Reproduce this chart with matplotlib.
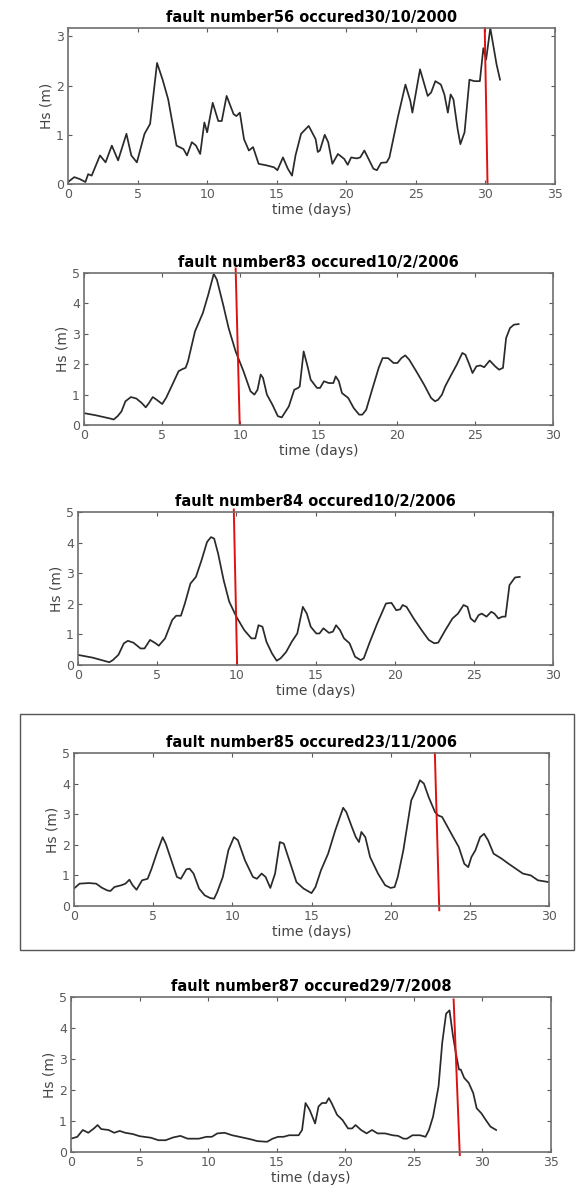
import matplotlib
matplotlib.use("Agg")
import matplotlib.pyplot as plt
from matplotlib.patches import Rectangle
import numpy as np

# fault 56 - 30/10/2000
t56 = [0.05, 0.45, 0.85, 1.25, 1.45, 1.7, 2.3, 2.7, 3.15, 3.6, 4.2, 4.55, 4.95, 5.5, 5.9, 6.4, 6.8, 7.2,
       7.8, 8.3, 8.55, 8.9, 9.2, 9.5, 9.8, 10.0, 10.4, 10.8, 11.05, 11.4, 11.9, 12.1, 12.35, 12.65, 13.0,
       13.3, 13.7, 14.25, 14.8, 15.05, 15.45, 15.8, 16.1, 16.35, 16.75, 17.3, 17.8, 17.95, 18.1, 18.45,
       18.7, 19.0, 19.4, 19.85, 20.1, 20.35, 20.75, 21.0, 21.3, 21.6, 21.95, 22.2, 22.5, 22.9, 23.1, 23.7,
       24.25, 24.6, 24.75, 25.3, 25.85, 26.1, 26.4, 26.8, 27.05, 27.3, 27.5, 27.7, 28.0, 28.2, 28.5, 28.85,
       29.2, 29.6, 29.85, 30.05, 30.35, 30.8, 31.05]
hs56 = [0.05, 0.14, 0.1, 0.04, 0.2, 0.17, 0.58, 0.44, 0.78, 0.48, 1.02, 0.58, 0.44, 1.02, 1.22, 2.46, 2.12, 1.72,
        0.78, 0.71, 0.58, 0.85, 0.78, 0.61, 1.25, 1.05, 1.65, 1.28, 1.28, 1.79, 1.42, 1.38, 1.45, 0.91, 0.68,
        0.75, 0.41, 0.38, 0.34, 0.28, 0.54, 0.31, 0.17, 0.58, 1.02, 1.18, 0.91, 0.65, 0.68, 1.0,
        0.85, 0.41, 0.61, 0.51, 0.39, 0.54, 0.52, 0.54, 0.68, 0.51, 0.31, 0.28, 0.43, 0.44, 0.54, 1.35,
        2.02, 1.69, 1.45, 2.33, 1.79, 1.86, 2.09, 2.02, 1.82, 1.45, 1.82, 1.72, 1.12, 0.81, 1.05, 2.12,
        2.09, 2.09, 2.76, 2.53, 3.17, 2.43, 2.12]

# fault 83 - 10/2/2006
t83 = [0, 0.75, 1.7, 1.9, 2.15, 2.4, 2.65, 3.0, 3.35, 3.7, 3.95, 4.15, 4.4, 4.65, 5.0, 5.25, 5.7, 6.05, 6.3,
       6.5, 6.65, 7.1, 7.6, 7.95, 8.3, 8.5, 8.9, 9.25, 9.7, 10.2, 10.65, 10.9, 11.1, 11.3, 11.45, 11.7, 12.05,
       12.4, 12.65, 13.1, 13.45, 13.7, 13.8, 14.05, 14.3, 14.5, 14.9, 15.1, 15.35, 15.65, 15.95, 16.1, 16.3,
       16.5, 16.9, 17.25, 17.6, 17.8, 18.05, 18.4, 18.85, 19.1, 19.45, 19.8, 20.05, 20.3, 20.55, 20.8, 21.25,
       21.75, 22.2, 22.45, 22.65, 22.9, 23.1, 23.5, 23.85, 24.2, 24.4, 24.65, 24.85, 25.1, 25.35, 25.6, 25.95,
       26.3, 26.55, 26.8, 27.0, 27.25, 27.5, 27.8]
hs83 = [0.39, 0.32, 0.21, 0.18, 0.29, 0.45, 0.78, 0.92, 0.87, 0.72, 0.58, 0.72, 0.92, 0.83, 0.69, 0.89, 1.38, 1.77, 1.84,
        1.88, 2.09, 3.08, 3.68, 4.29, 4.97, 4.78, 3.96, 3.19, 2.42, 1.77, 1.11, 1.0, 1.16, 1.66, 1.55, 1.0, 0.67,
        0.29, 0.25, 0.61, 1.16, 1.22, 1.27, 2.42, 1.93, 1.49, 1.22, 1.22, 1.44, 1.38, 1.38, 1.6, 1.44,
        1.05, 0.89, 0.56, 0.34, 0.34, 0.5, 1.11, 1.88, 2.2, 2.2, 2.04, 2.04, 2.2, 2.29, 2.15, 1.77,
        1.33, 0.89, 0.78, 0.83, 1.0, 1.27, 1.66, 1.99, 2.37, 2.31, 1.99, 1.71, 1.93, 1.96, 1.9, 2.12,
        1.93, 1.82, 1.88, 2.86, 3.19, 3.3, 3.32]

# fault 84 - 10/2/2006
t84 = [0, 0.93, 1.98, 2.2, 2.55, 2.9, 3.15, 3.5, 3.95, 4.2, 4.55, 4.9, 5.1, 5.5, 5.95, 6.2, 6.5, 6.75, 7.1, 7.45,
       7.8, 8.15, 8.4, 8.6, 8.85, 9.2, 9.55, 10.0, 10.5, 10.95, 11.2, 11.4, 11.65, 11.9, 12.25, 12.55, 12.8,
       13.15, 13.5, 13.85, 14.2, 14.45, 14.7, 15.05, 15.25, 15.5, 15.85, 16.1, 16.3, 16.55, 16.8, 17.15, 17.5,
       17.85, 18.05, 18.4, 18.9, 19.45, 19.8, 20.1, 20.35, 20.5, 20.75, 21.2, 21.7, 22.15, 22.5, 22.75, 23.2,
       23.65, 24.0, 24.35, 24.6, 24.8, 25.05, 25.3, 25.5, 25.8, 26.1, 26.3, 26.55, 26.8, 27.0, 27.25, 27.6, 27.9]
hs84 = [0.33, 0.24, 0.09, 0.16, 0.33, 0.71, 0.79, 0.73, 0.54, 0.54, 0.82, 0.71, 0.63, 0.87, 1.47, 1.61, 1.61, 2.01, 2.66, 2.88,
        3.42, 4.02, 4.18, 4.13, 3.64, 2.77, 2.07, 1.58, 1.14, 0.87, 0.87, 1.3, 1.25, 0.76, 0.38, 0.14, 0.22,
        0.43, 0.76, 1.03, 1.9, 1.68, 1.25, 1.03, 1.03, 1.2, 1.05, 1.09, 1.3, 1.14, 0.87, 0.71, 0.27,
        0.16, 0.22, 0.71, 1.36, 2.01, 2.03, 1.79, 1.82, 1.96, 1.9, 1.52, 1.14, 0.82, 0.71, 0.73, 1.14,
        1.52, 1.68, 1.96, 1.9, 1.52, 1.41, 1.63, 1.68, 1.58, 1.74, 1.68, 1.52, 1.58, 1.58, 2.61, 2.86, 2.88]

# fault 85 - 23/11/2006
t85 = [0, 0.35, 0.93, 1.4, 1.75, 2.1, 2.3, 2.55, 3.0, 3.25, 3.5, 3.7, 3.95, 4.3, 4.65, 4.9, 5.25, 5.6, 5.8, 6.15,
       6.5, 6.75, 7.1, 7.3, 7.55, 7.9, 8.25, 8.6, 8.85, 9.05, 9.4, 9.75, 10.1, 10.35, 10.8, 11.3, 11.55, 11.85,
       12.1, 12.4, 12.7, 13.0, 13.25, 13.6, 14.05, 14.5, 15.0, 15.25, 15.6, 16.05, 16.5, 17.0, 17.2, 17.55,
       17.8, 18.0, 18.15, 18.4, 18.7, 19.2, 19.65, 20.0, 20.25, 20.45, 20.8, 21.3, 21.6, 21.85, 22.1, 22.4,
       22.8, 23.0, 23.25, 23.6, 23.95, 24.3, 24.65, 24.9, 25.1, 25.35, 25.65, 25.9, 26.15, 26.5, 27.0, 27.45,
       27.9, 28.35, 28.85, 29.3, 30.0]
hs85 = [0.57, 0.73, 0.75, 0.73, 0.6, 0.51, 0.49, 0.62, 0.68, 0.73, 0.86, 0.68, 0.53, 0.84, 0.89, 1.22, 1.76, 2.25, 2.03, 1.49,
        0.95, 0.89, 1.2, 1.22, 1.06, 0.57, 0.35, 0.26, 0.24, 0.46, 0.95, 1.82, 2.25, 2.15, 1.49, 0.95, 0.89, 1.06,
        0.95, 0.59, 1.06, 2.09, 2.04, 1.49, 0.78, 0.57, 0.42, 0.62, 1.17, 1.71, 2.47, 3.21, 3.07, 2.58,
        2.25, 2.09, 2.42, 2.25, 1.6, 1.06, 0.68, 0.59, 0.62, 0.95, 1.82, 3.45, 3.78, 4.11, 4.0, 3.56,
        3.07, 2.96, 2.91, 2.58, 2.25, 1.93, 1.38, 1.27, 1.6, 1.82, 2.25, 2.36, 2.15, 1.71, 1.55, 1.38,
        1.22, 1.06, 1.0, 0.84, 0.78]

# fault 87 - 29/7/2008
t87 = [0, 0.46, 0.86, 1.26, 1.67, 1.94, 2.2, 2.74, 3.15, 3.55, 3.95, 4.5, 5.0, 5.83, 6.37, 6.9, 7.45, 7.98, 8.5,
       9.33, 9.87, 10.27, 10.67, 11.2, 11.75, 12.28, 13.1, 13.6, 14.3, 14.7, 15.1, 15.5, 15.9, 16.3, 16.6,
       16.85, 17.1, 17.4, 17.8, 18.05, 18.3, 18.6, 18.8, 19.0, 19.4, 19.8, 20.2, 20.5, 20.75, 21.15, 21.55,
       21.95, 22.35, 22.9, 23.45, 23.85, 24.25, 24.5, 24.9, 25.45, 25.85, 26.1, 26.4, 26.8, 27.07, 27.35,
       27.6, 27.85, 28.1, 28.29, 28.42, 28.67, 29.0, 29.33, 29.58, 29.92, 30.25, 30.58, 31.0]
hs87 = [0.43, 0.49, 0.71, 0.62, 0.76, 0.87, 0.74, 0.71, 0.62, 0.68, 0.62, 0.58, 0.51, 0.46, 0.38, 0.38, 0.47, 0.52, 0.43,
        0.43, 0.49, 0.49, 0.6, 0.62, 0.54, 0.49, 0.41, 0.35, 0.33, 0.43, 0.49, 0.49, 0.54, 0.54, 0.54,
        0.71, 1.58, 1.36, 0.92, 1.47, 1.58, 1.58, 1.74, 1.58, 1.2, 1.03, 0.76, 0.76, 0.87, 0.71, 0.6,
        0.71, 0.6, 0.6, 0.54, 0.52, 0.43, 0.43, 0.54, 0.54, 0.49, 0.71, 1.14, 2.12, 3.53, 4.46,
        4.57, 3.75, 3.1, 2.66, 2.66, 2.39, 2.23, 1.9, 1.41, 1.25, 1.03, 0.82, 0.71]

titles = ["fault number56 occured30/10/2000", "fault number83 occured10/2/2006",
          "fault number84 occured10/2/2006", "fault number85 occured23/11/2006",
          "fault number87 occured29/7/2008"]
# red fault marker: (x at top, y at top, x at bottom, y at bottom)
fault_lines = [(29.95, 3.17, 30.15, 0.0), (9.7, 5.15, 9.96, 0.0), (9.84, 5.08, 10.05, 0.0),
               (22.79, 5.0, 23.07, -0.14), (27.9, 4.92, 28.35, -0.1)]
xmax = [35, 30, 30, 30, 35]
ymax = [3.17, 5, 5, 5, 5]

series = [(t56, hs56), (t83, hs83), (t84, hs84), (t85, hs85), (t87, hs87)]

# axes boxes in pixels: left, right, top, bottom
W, H = 578, 1204
boxes = [(68, 555, 28, 184), (84, 553, 273, 425), (78, 553, 512, 665),
         (74, 549, 753, 906), (71, 551, 997, 1152)]

fig = plt.figure(figsize=(W / 100, H / 100), dpi=100)
fig.patch.set_facecolor("white")

grey = "#5a5a5a"
for i, (l, r, t, b) in enumerate(boxes):
    ax = fig.add_axes([l / W, 1 - b / H, (r - l) / W, (b - t) / H])
    tt, hs = series[i]
    ax.plot(tt, hs, color="#2a2a2a", lw=1.25)
    x0, y0, x1, y1 = fault_lines[i]
    ax.plot([x0, x1], [y0, y1], color="#e01010", lw=1.4, clip_on=False)
    ax.set_xlim(0, xmax[i])
    ax.set_ylim(0, ymax[i])
    ax.set_xticks(np.arange(0, xmax[i] + 1, 5))
    ax.set_yticks(np.arange(0, int(ymax[i]) + 1, 1))
    ax.tick_params(direction="in", length=3, width=0.8, top=True, right=True,
                   labelsize=9, colors=grey, pad=3)
    for sp in ax.spines.values():
        sp.set_color("#6e6e6e")
        sp.set_linewidth(1.2)
    ax.set_title(titles[i], fontsize=10.5, fontweight="bold", pad=4)
    ax.set_xlabel("time (days)", fontsize=10, color="#444444", labelpad=1)
    ax.set_ylabel("Hs (m)", fontsize=10, color="#444444", labelpad=2)

# frame around the fourth panel
fig.patches.append(Rectangle((20 / W, 1 - 950 / H), (574 - 20) / W, (950 - 714) / H,
                             transform=fig.transFigure, fill=False,
                             edgecolor="#555555", lw=1.0))

fig.savefig("out.png", dpi=100)
